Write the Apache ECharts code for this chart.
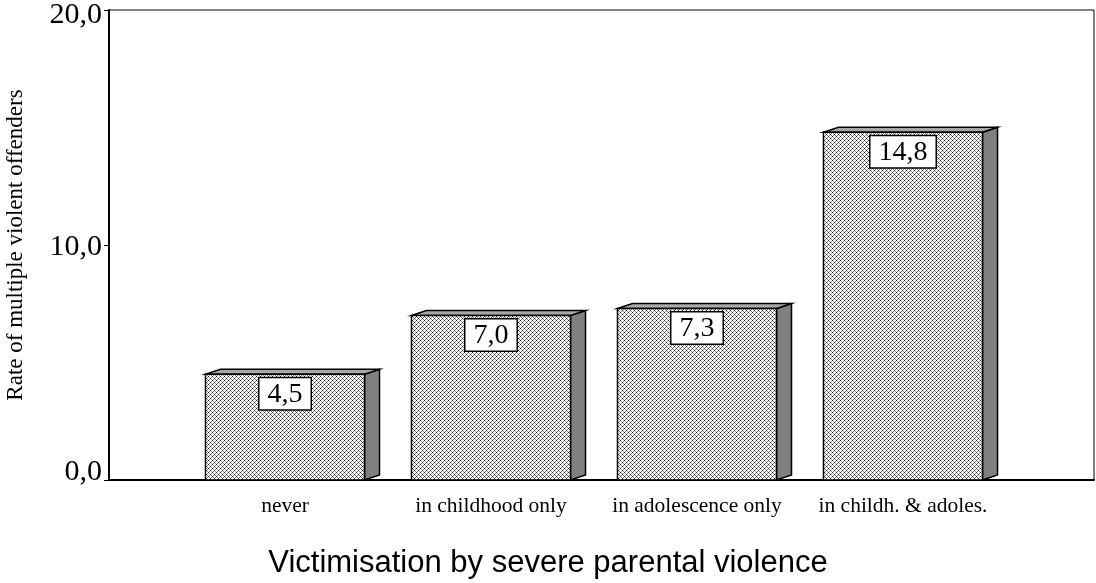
<!DOCTYPE html>
<html>
<head>
<meta charset="utf-8">
<script src="https://cdn.jsdelivr.net/npm/echarts@6/dist/echarts.min.js"></script>
<style>
html,body{margin:0;padding:0;background:#fff;}
#chart{width:1096px;height:583px;}
</style>
</head>
<body>
<div id="chart"></div>
<script>
var categories = ['never', 'in childhood only', 'in adolescence only', 'in childh. & adoles.'];
var rates = [4.5, 7.0, 7.3, 14.8];
var yTicks = [0, 10, 20];

function fmt(v){ return v.toFixed(1).replace('.', ','); }

// dotted crosshatch pattern
var tile = document.createElement('canvas');
tile.width = 4; tile.height = 4;
var tc = tile.getContext('2d');
tc.fillStyle = '#ffffff'; tc.fillRect(0,0,4,4);
tc.fillStyle = '#8a8a8a';
[[1,1],[3,3],[1,3],[3,1]].forEach(function(p){ tc.fillRect(p[0],p[1],1,1); });
tc.fillStyle = '#222222';
[[0,0],[2,2]].forEach(function(p){ tc.fillRect(p[0],p[1],1,1); });
var pattern = {image: tile, repeat: 'repeat'};

var chart = echarts.init(document.getElementById('chart'), null, {renderer: 'canvas'});
var serif = '"Liberation Serif", "Times New Roman", serif';
var tickFont = {fontFamily: serif, fontSize: 30, color: '#000'};

chart.setOption({
  animation: false,
  backgroundColor: '#fff',
  title: {
    text: 'Victimisation by severe parental violence',
    left: 'center',
    top: 543,
    textStyle: {fontFamily: '"Liberation Sans", Arial, sans-serif', fontWeight: 'normal', fontSize: 31, color: '#000'}
  },
  grid: [
    {left: 109, right: 2, top: 10, bottom: 103, show: true, borderColor: '#000', borderWidth: 1,
     backgroundColor: 'transparent', containLabel: false, outerBoundsMode: 'none'},
    {left: 182, width: 824, top: 10, bottom: 103, containLabel: false, outerBoundsMode: 'none'}
  ],
  xAxis: [
    {gridIndex: 0, type: 'value', min: 0, max: 1, axisLabel: {show: false}, axisTick: {show: false}, splitLine: {show: false},
     axisLine: {show: true, lineStyle: {color: '#000', width: 2}}},
    {gridIndex: 1, type: 'category', data: categories, axisLine: {show: false}, axisTick: {show: false},
     axisLabel: {interval: 0, fontFamily: serif, fontSize: 21.5, color: '#000', margin: 15}}
  ],
  yAxis: [
    {gridIndex: 0, type: 'value', min: yTicks[0], max: yTicks[yTicks.length-1], interval: 10,
     name: 'Rate of multiple violent offenders', nameLocation: 'middle', nameGap: 82,
     nameTextStyle: {fontFamily: serif, fontSize: 23, color: '#000'},
     axisLine: {show: true, lineStyle: {color: '#000', width: 2}},
     axisTick: {show: true, length: 5, lineStyle: {color: '#000', width: 1}},
     axisLabel: {
       formatter: function(v){
         if (v === yTicks[0]) return '{lo|' + fmt(v) + '}';
         if (v === yTicks[yTicks.length-1]) return '{hi|' + fmt(v) + '}';
         return '{mid|' + fmt(v) + '}';
       },
       fontFamily: serif, fontSize: 30, color: '#000', margin: 7,
       rich: {
         lo: Object.assign({padding: [0, 0, 16, 0]}, tickFont),
         hi: Object.assign({padding: [10, 0, 0, 0]}, tickFont),
         mid: Object.assign({padding: [4, 0, 0, 0]}, tickFont)
       }
     },
     splitLine: {show: false}},
    {gridIndex: 1, type: 'value', min: 0, max: 20, show: false}
  ],
  series: [{
    type: 'custom',
    xAxisIndex: 1, yAxisIndex: 1,
    data: rates.map(function(v, i){ return [i, v]; }),
    renderItem: function(params, api){
      var idx = api.value(0), v = api.value(1);
      var top = api.coord([idx, v]);
      var base = api.coord([idx, 0]);
      var bw = api.size([1, 0])[0] * 0.772;
      var x0 = top[0] - bw/2, x1 = top[0] + bw/2, yt = top[1], yb = base[1];
      var dx = 15, dy = 5;
      return {
        type: 'group',
        children: [
          {type: 'polygon', shape: {points: [[x1, yt], [x1+dx, yt-dy], [x1+dx, yb-dy], [x1, yb]]},
           style: {fill: '#808080', stroke: '#000', lineWidth: 1.5}},
          {type: 'polygon', shape: {points: [[x0, yt], [x0+dx, yt-dy], [x1+dx, yt-dy], [x1, yt]]},
           style: {fill: '#a8a8a8', stroke: '#000', lineWidth: 1.5}},
          {type: 'rect', shape: {x: x0, y: yt, width: bw, height: yb - yt},
           style: {fill: pattern, stroke: '#000', lineWidth: 1.5}},
          {type: 'text', x: top[0], y: yt + 4,
           style: {text: fmt(v), fill: '#000', font: '28px ' + serif, align: 'center', verticalAlign: 'top',
                    backgroundColor: '#fff', borderColor: '#000', borderWidth: 1.5, padding: [2, 8, 1, 8]}}
        ]
      };
    }
  }]
});
</script>
</body>
</html>
